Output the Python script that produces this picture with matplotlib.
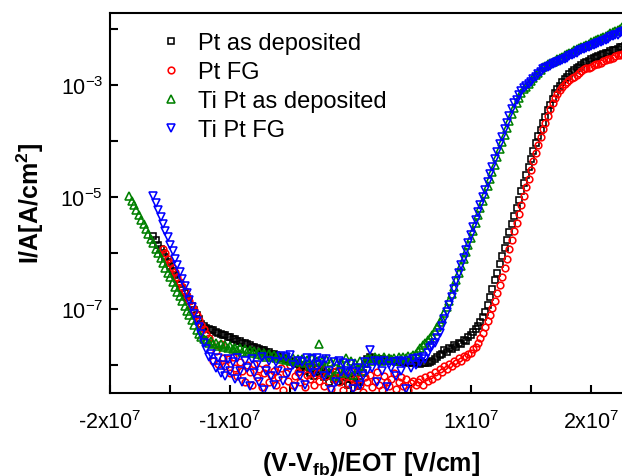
import numpy as np
import matplotlib
matplotlib.use('Agg')
import matplotlib.pyplot as plt
from matplotlib.ticker import FixedLocator, NullLocator

plt.rcParams['font.family'] = 'Liberation Sans'
plt.rcParams['mathtext.fontset'] = 'custom'
plt.rcParams['mathtext.rm'] = 'Liberation Sans'
plt.rcParams['mathtext.it'] = 'Liberation Sans:italic'
plt.rcParams['mathtext.bf'] = 'Liberation Sans:bold'

# field (V-Vfb)/EOT in units of 1e6 V/cm
field = [
    -18.4, -18.2, -18.0, -17.8, -17.6, -17.4, -17.2, -17.0, -16.8, -16.6,
    -16.4, -16.2, -16.0, -15.8, -15.6, -15.4, -15.2, -15.0, -14.8, -14.6,
    -14.4, -14.2, -14.0, -13.8, -13.6, -13.4, -13.2, -13.0, -12.8, -12.6,
    -12.4, -12.2, -12.0, -11.8, -11.6, -11.4, -11.2, -11.0, -10.8, -10.6,
    -10.4, -10.2, -10.0, -9.8, -9.6, -9.4, -9.2, -9.0, -8.8, -8.6,
    -8.4, -8.2, -8.0, -7.8, -7.6, -7.4, -7.2, -7.0, -6.8, -6.6,
    -6.4, -6.2, -6.0, -5.8, -5.6, -5.4, -5.2, -5.0, -4.8, -4.6,
    -4.4, -4.2, -4.0, -3.8, -3.6, -3.4, -3.2, -3.0, -2.8, -2.6,
    -2.4, -2.2, -2.0, -1.8, -1.6, -1.4, -1.2, -1.0, -0.8, -0.6,
    -0.4, -0.2, 0.0, 0.2, 0.4, 0.6, 0.8, 1.0, 1.2, 1.4,
    1.6, 1.8, 2.0, 2.2, 2.4, 2.6, 2.8, 3.0, 3.2, 3.4,
    3.6, 3.8, 4.0, 4.2, 4.4, 4.6, 4.8, 5.0, 5.2, 5.4,
    5.6, 5.8, 6.0, 6.2, 6.4, 6.6, 6.8, 7.0, 7.2, 7.4,
    7.6, 7.8, 8.0, 8.2, 8.4, 8.6, 8.8, 9.0, 9.2, 9.4,
    9.6, 9.8, 10.0, 10.2, 10.4, 10.6, 10.8, 11.0, 11.2, 11.4,
    11.6, 11.8, 12.0, 12.2, 12.4, 12.6, 12.8, 13.0, 13.2, 13.4,
    13.6, 13.8, 14.0, 14.2, 14.4, 14.6, 14.8, 15.0, 15.2, 15.4,
    15.6, 15.8, 16.0, 16.2, 16.4, 16.6, 16.8, 17.0, 17.2, 17.4,
    17.6, 17.8, 18.0, 18.2, 18.4, 18.6, 18.8, 19.0, 19.2, 19.4,
    19.6, 19.8, 20.0, 20.2, 20.4, 20.6, 20.8, 21.0, 21.2, 21.4,
    21.6, 21.8, 22.0, 22.2, 22.4, 22.6, 22.8, 23.0, 23.2, 23.4,
]

# log10 of current density [A/cm2], None = no measurement
pt_dep = [
    None, None, None, None, None, None, None, None, None, None,
    -5.69, -5.77, -5.85, -5.92, -6.00, -6.08, -6.16, -6.24, -6.32, -6.39,
    -6.47, -6.55, -6.63, -6.71, -6.78, -6.86, -6.94, -7.02, -7.10, -7.17,
    -7.27, -7.31, -7.34, -7.36, -7.38, -7.38, -7.41, -7.42, -7.45, -7.46,
    -7.47, -7.50, -7.50, -7.53, -7.54, -7.57, -7.57, -7.60, -7.61, -7.63,
    -7.64, -7.67, -7.67, -7.70, -7.71, -7.73, -7.74, -7.77, -7.77, -7.80,
    -7.81, -7.83, -7.84, -7.87, -7.87, -7.90, -7.91, -7.93, -7.94, -7.97,
    -7.98, -8.05, -8.00, -8.10, -8.03, -8.15, -8.05, -8.20, -8.08, -8.12,
    -8.10, -8.22, -8.15, -8.30, -8.18, -8.25, -8.12, -8.30, -8.20, -8.28,
    -8.22, -8.35, -8.25, -8.30, -8.20, -8.38, -8.30, -8.15, -7.98, -7.90,
    -7.86, -7.88, -7.90, -7.89, -7.91, -7.90, -7.92, -7.91, -7.93, -7.92,
    -7.93, -7.92, -7.94, -7.93, -7.95, -7.94, -7.96, -7.95, -7.96, -7.97,
    -7.97, -7.98, -7.97, -7.96, -7.96, -7.95, -7.92, -7.89, -7.86, -7.83,
    -7.80, -7.74, -7.77, -7.70, -7.71, -7.64, -7.67, -7.60, -7.62, -7.55,
    -7.57, -7.50, -7.46, -7.41, -7.36, -7.30, -7.24, -7.14, -7.05, -6.93,
    -6.78, -6.64, -6.49, -6.35, -6.20, -6.06, -5.91, -5.77, -5.63, -5.49,
    -5.34, -5.20, -5.05, -4.90, -4.75, -4.60, -4.46, -4.32, -4.18, -4.04,
    -3.91, -3.80, -3.68, -3.57, -3.45, -3.35, -3.25, -3.15, -3.08, -3.02,
    -2.95, -2.90, -2.85, -2.80, -2.77, -2.73, -2.70, -2.67, -2.64, -2.61,
    -2.59, -2.57, -2.54, -2.52, -2.50, -2.48, -2.47, -2.45, -2.43, -2.42,
    -2.40, -2.38, -2.37, -2.35, -2.33, -2.32, -2.30, -2.28, -2.27, -2.25,
]

pt_fg = [
    None, None, None, None, None, None, None, None, None, None,
    None, None, None, None, -5.93, -6.00, -6.10, -6.17, -6.26, -6.34,
    -6.43, -6.51, -6.60, -6.68, -6.77, -6.85, -6.94, -7.02, -7.11, -7.19,
    -7.28, -7.36, -7.45, -7.52, -7.60, -7.92, -7.75, -7.98, -7.62, -7.88,
    -8.02, -7.90, -8.15, -7.85, -8.05, -8.20, -7.95, -8.10, -8.30, -8.00,
    -8.12, -8.35, -7.98, -8.22, -8.08, -8.40, -8.15, -8.05, -8.30, -8.18,
    -8.10, -8.36, -8.22, -8.05, -8.45, -8.15, -8.28, -8.00, -8.35, -8.20,
    -8.12, -8.30, -8.05, -8.40, -8.18, -8.25, -8.02, -8.35, -8.15, -8.28,
    -8.08, -8.38, -8.20, -8.12, -8.42, -8.25, -8.10, -8.30, -8.18, -8.45,
    -8.20, -8.32, -8.10, -8.40, -8.25, -8.15, -8.35, -8.48, -8.22, -8.30,
    -8.18, -8.40, -8.28, -8.12, -8.35, -8.45, -8.20, -8.30, -8.38, -8.25,
    -8.15, -8.42, -8.30, -8.22, -8.38, -8.25, -8.45, -8.32, -8.28, -8.35,
    -8.30, -8.25, -8.35, -8.22, -8.28, -8.18, -8.25, -8.12, -8.20, -8.08,
    -8.12, -8.02, -8.08, -7.98, -8.02, -7.93, -7.97, -7.88, -7.92, -7.84,
    -7.86, -7.80, -7.79, -7.72, -7.68, -7.60, -7.52, -7.42, -7.32, -7.22,
    -7.11, -6.99, -6.85, -6.71, -6.57, -6.42, -6.26, -6.10, -5.93, -5.77,
    -5.61, -5.46, -5.30, -5.15, -4.99, -4.83, -4.67, -4.51, -4.36, -4.22,
    -4.07, -3.93, -3.79, -3.67, -3.55, -3.43, -3.33, -3.24, -3.16, -3.09,
    -3.03, -2.99, -2.94, -2.91, -2.88, -2.85, -2.82, -2.78, -2.75, -2.72,
    -2.70, -2.69, -2.67, -2.65, -2.63, -2.62, -2.60, -2.58, -2.56, -2.54,
    -2.53, -2.51, -2.49, -2.47, -2.46, -2.44, -2.42, -2.40, -2.39, -2.37,
]

tipt_dep = [
    -4.98, -5.07, -5.15, -5.24, -5.32, -5.41, -5.49, -5.58, -5.66, -5.75,
    -5.83, -5.92, -6.00, -6.09, -6.17, -6.26, -6.35, -6.43, -6.52, -6.60,
    -6.69, -6.77, -6.86, -6.94, -7.03, -7.11, -7.20, -7.28, -7.37, -7.45,
    -7.50, -7.54, -7.56, -7.60, -7.58, -7.63, -7.61, -7.66, -7.63, -7.68,
    -7.65, -7.70, -7.66, -7.72, -7.69, -7.74, -7.70, -7.76, -7.72, -7.77,
    -7.74, -7.79, -7.75, -7.81, -7.77, -7.83, -7.79, -7.85, -7.80, -7.86,
    -7.82, -7.88, -7.84, -7.90, -7.85, -7.91, -7.86, -7.92, -7.87, -7.93,
    -7.89, -7.94, -7.90, -7.96, -7.91, -8.02, -7.88, -7.95, -7.92, -7.63,
    -7.93, -8.05, -7.90, -8.12, -7.95, -8.20, -7.92, -8.08, -7.97, -8.15,
    -7.88, -8.10, -7.92, -8.18, -7.96, -8.05, -7.92, -8.10, -7.95, -7.90,
    -7.88, -7.92, -7.86, -7.90, -7.87, -7.93, -7.86, -7.91, -7.88, -7.90,
    -7.87, -7.92, -7.86, -7.90, -7.85, -7.88, -7.84, -7.86, -7.82, -7.80,
    -7.75, -7.70, -7.65, -7.60, -7.55, -7.51, -7.46, -7.39, -7.32, -7.24,
    -7.17, -7.07, -6.96, -6.85, -6.74, -6.61, -6.49, -6.36, -6.24, -6.11,
    -5.99, -5.86, -5.73, -5.60, -5.46, -5.33, -5.20, -5.07, -4.94, -4.81,
    -4.68, -4.55, -4.42, -4.29, -4.15, -4.02, -3.89, -3.76, -3.64, -3.51,
    -3.41, -3.32, -3.23, -3.14, -3.08, -3.03, -2.98, -2.93, -2.88, -2.83,
    -2.78, -2.73, -2.68, -2.66, -2.63, -2.61, -2.59, -2.57, -2.54, -2.52,
    -2.50, -2.47, -2.45, -2.43, -2.41, -2.38, -2.36, -2.34, -2.32, -2.30,
    -2.28, -2.26, -2.24, -2.22, -2.20, -2.18, -2.16, -2.14, -2.12, -2.10,
    -2.08, -2.06, -2.04, -2.02, -2.00, -1.97, -1.95, -1.93, -1.91, -1.89,
]

tipt_fg = [
    None, None, None, None, None, None, None, None, None, None,
    -4.98, -5.10, -5.23, -5.35, -5.48, -5.60, -5.72, -5.85, -5.97, -6.10,
    -6.22, -6.34, -6.47, -6.59, -6.72, -6.84, -6.96, -7.09, -7.21, -7.33,
    -7.45, -7.60, -7.72, -7.85, -7.80, -7.95, -8.05, -7.88, -8.15, -8.00,
    -8.20, -7.90, -8.10, -7.95, -8.25, -7.88, -8.10, -8.30, -7.92, -8.05,
    -8.38, -7.90, -8.15, -8.00, -8.30, -7.85, -8.45, -8.10, -7.92, -8.20,
    -8.35, -7.95, -8.10, -7.84, -8.28, -7.86, -8.15, -7.83, -8.00, -8.40,
    -7.92, -8.20, -7.95, -8.35, -7.88, -8.05, -7.90, -8.15, -7.87, -8.00,
    -7.93, -8.20, -7.90, -8.10, -8.45, -7.95, -8.30, -7.92, -8.12, -7.96,
    -8.10, -8.15, -7.98, -8.42, -8.12, -8.05, -8.35, -8.20, -7.95, -8.10,
    -7.74, -8.05, -7.92, -8.30, -7.96, -8.10, -7.93, -8.40, -7.98, -8.06,
    -7.95, -8.20, -7.93, -8.10, -7.96, -8.42, -7.92, -8.05, -7.90, -8.00,
    -7.88, -7.95, -7.85, -7.90, -7.78, -7.70, -7.66, -7.60, -7.51, -7.42,
    -7.30, -7.17, -7.05, -6.92, -6.79, -6.65, -6.50, -6.36, -6.22, -6.09,
    -5.95, -5.82, -5.68, -5.54, -5.41, -5.27, -5.14, -5.00, -4.87, -4.73,
    -4.59, -4.46, -4.32, -4.19, -4.05, -3.92, -3.79, -3.67, -3.55, -3.43,
    -3.33, -3.26, -3.18, -3.11, -3.05, -3.01, -2.98, -2.94, -2.90, -2.86,
    -2.81, -2.77, -2.72, -2.70, -2.68, -2.66, -2.63, -2.61, -2.59, -2.57,
    -2.55, -2.53, -2.51, -2.48, -2.46, -2.44, -2.42, -2.40, -2.38, -2.36,
    -2.34, -2.32, -2.30, -2.29, -2.27, -2.25, -2.23, -2.21, -2.19, -2.17,
    -2.15, -2.13, -2.11, -2.10, -2.08, -2.06, -2.04, -2.02, -2.00, -1.98,
]

labels = ['Pt as deposited', 'Pt FG', 'Ti Pt as deposited', 'Ti Pt FG']
x_ticks = [-2e7, -1e7, 0, 1e7, 2e7]
x_ticklabels = ['-2x10$^{7}$', '-1x10$^{7}$', '0', '1x10$^{7}$', '2x10$^{7}$']
y_ticks = [1e-8, 1e-7, 1e-6, 1e-5, 1e-4, 1e-3, 1e-2]
y_ticklabels = ['', '10$^{-7}$', '', '10$^{-5}$', '', '10$^{-3}$', '']

fig = plt.figure(figsize=(6.22, 4.77), dpi=100)
# right spine sits just outside the picture, as in the cropped original
ax = fig.add_axes([110/622, 83/477, 522/622, 380/477])

x = np.array(field) * 1e6
styles = [('s', 'black', 3.8), ('o', 'red', 4.8), ('^', 'green', 5.8), ('v', 'blue', 5.8)]
for logs, lab, (mk, col, ms) in zip([pt_dep, pt_fg, tipt_dep, tipt_fg], labels, styles):
    y = np.array([np.nan if v is None else v for v in logs], dtype=float)
    ax.plot(x, 10**y, linestyle='none', marker=mk, ms=ms, mfc='none',
            mec=col, mew=1.15, label=lab)

ax.set_yscale('log')
ax.set_xlim(-2e7, 2.34e7)
ax.set_ylim(10**-8.5, 10**-1.714)

ax.xaxis.set_major_locator(FixedLocator(x_ticks))
ax.set_xticklabels(x_ticklabels)
ax.xaxis.set_minor_locator(FixedLocator([-1.5e7, -0.5e7, 0.5e7, 1.5e7]))
ax.yaxis.set_major_locator(FixedLocator(y_ticks))
ax.set_yticklabels(y_ticklabels)
ax.yaxis.set_minor_locator(NullLocator())

ax.tick_params(which='both', direction='in', length=6, width=1.5,
               top=False, right=False, labelsize=15.5)
ax.tick_params(axis='x', pad=12)
ax.tick_params(axis='y', pad=5)
for s in ax.spines.values():
    s.set_linewidth(1.5)

ax.set_xlabel(r'(V-V$_{\mathbf{fb}}$)/EOT [V/cm]', fontsize=18, fontweight='bold', labelpad=12)
ax.set_ylabel(r'I/A[A/cm$^{\mathbf{2}}$]', fontsize=18, fontweight='bold', labelpad=10)

ax.legend(loc='upper left', bbox_to_anchor=(159/622, 1 - 33/477),
          bbox_transform=fig.transFigure, frameon=False, fontsize=17,
          handlelength=1.0, handletextpad=0.65, labelspacing=0.3,
          borderpad=0, borderaxespad=0)

fig.savefig('out.png', dpi=100)
